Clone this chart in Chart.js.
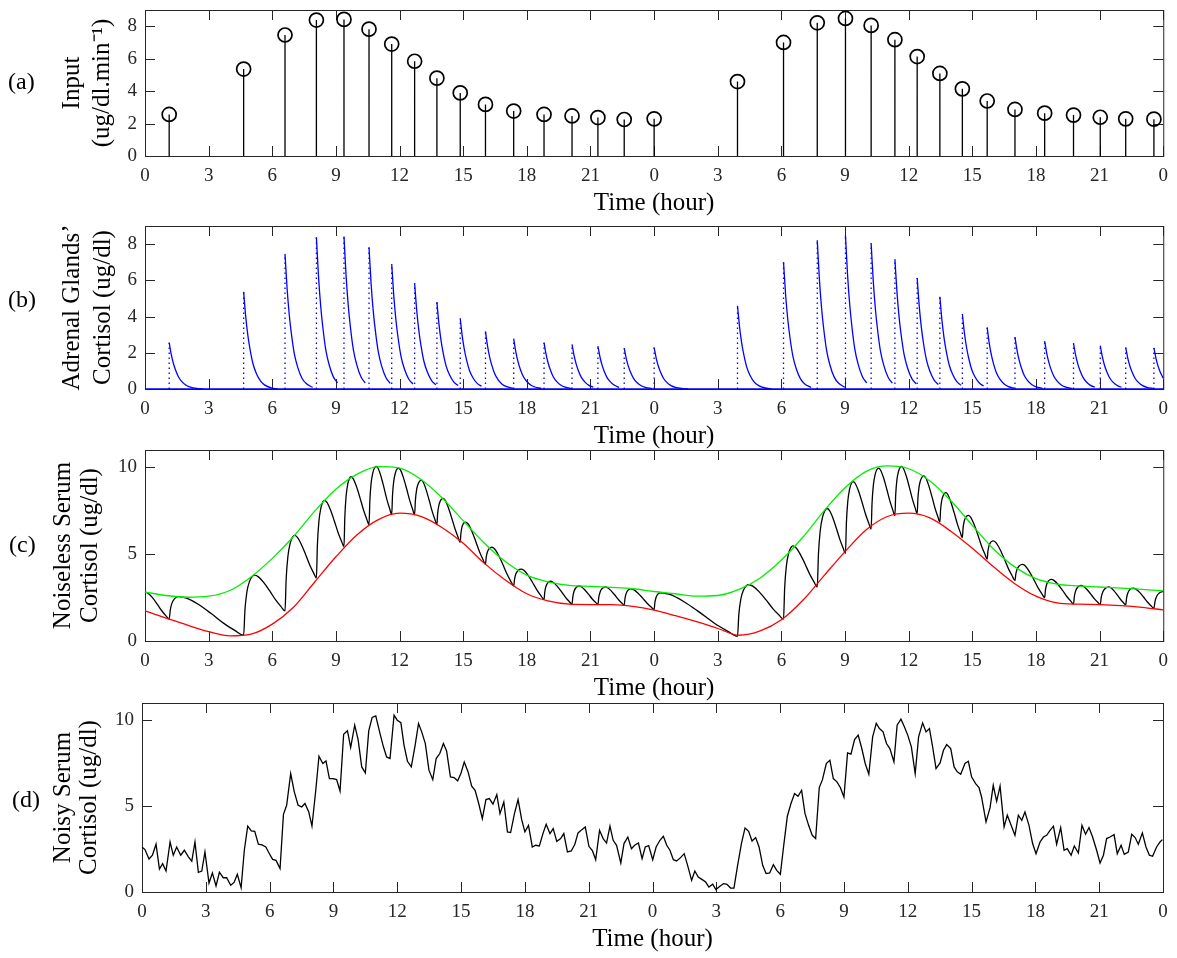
<!DOCTYPE html>
<html>
<head>
<meta charset="utf-8">
<script src="https://cdn.jsdelivr.net/npm/chart.js@4.4.1/dist/chart.umd.min.js"></script>
<style>
  body { margin: 0; background: #fff; }
  #wrap { position: relative; width: 1177px; height: 958px; overflow: hidden; }
  .panel { position: absolute; left: 0; width: 1177px; }
  .tag { position: absolute; font-family: 'Liberation Serif', serif; font-size: 24px; color: #000; }
</style>
</head>
<body>
<div id="wrap">
  <div class="panel" id="pa"><canvas id="ca"></canvas></div>
  <div class="panel" id="pb"><canvas id="cb"></canvas></div>
  <div class="panel" id="pc"><canvas id="cc"></canvas></div>
  <div class="panel" id="pd"><canvas id="cd"></canvas></div>
  <div class="tag" style="left:8px;top:68px">(a)</div>
  <div class="tag" style="left:8px;top:286px">(b)</div>
  <div class="tag" style="left:9px;top:531px">(c)</div>
  <div class="tag" style="left:12px;top:786px">(d)</div>
</div>
<script>
// pulse times (hours from start, two days) and input amplitudes
const pulseHours = [1.14, 4.65, 6.60, 8.08, 9.38, 10.56, 11.63, 12.71, 13.76, 14.86, 16.05, 17.38, 18.81, 20.13, 21.35, 22.59, 24.0,
  27.93, 30.10, 31.69, 33.02, 34.23, 35.35, 36.40, 37.47, 38.53, 39.70, 41.01, 42.41, 43.77, 45.03, 46.23, 47.56];
const inputValues = [2.56, 5.36, 7.46, 8.38, 8.42, 7.82, 6.90, 5.84, 4.80, 3.89, 3.18, 2.77, 2.56, 2.47, 2.37, 2.25, 2.29,
  4.59, 7.00, 8.21, 8.48, 8.05, 7.17, 6.13, 5.09, 4.14, 3.39, 2.87, 2.64, 2.52, 2.39, 2.29, 2.27];

// adrenal decay after each pulse, read from one spike (hours after pulse, share of amplitude)
const decayHours = [0, 0.1, 0.2, 0.3, 0.44, 0.6, 0.8, 1.0, 1.3, 1.6];
const decayShare = [1, 0.74, 0.55, 0.41, 0.26, 0.16, 0.08, 0.04, 0.012, 0];

// serum (noiseless): value at start, troughs at pulses, peaks after pulses
const serumStart = 2.82;
const serumTrough = [1.26, 0.33, 1.73, 3.63, 5.44, 6.70, 7.28, 7.28, 6.70, 5.69, 4.41, 3.17, 2.39, 2.12, 2.10, 2.06, 1.81,
  0.27, 1.26, 3.11, 5.05, 6.45, 7.22, 7.34, 6.85, 5.96, 4.72, 3.48, 2.50, 2.14, 2.10, 2.08, 1.88];
const serumPeakHours = [1.59, 5.16, 7.05, 8.46, 9.71, 10.90, 11.95, 13.02, 14.05, 15.11, 16.35, 17.73, 19.11, 20.46, 21.70, 22.90, 24.30,
  28.45, 30.54, 32.16, 33.38, 34.58, 35.66, 36.71, 37.75, 38.81, 39.98, 41.36, 42.72, 44.12, 45.43, 46.58, 48.0];
const serumPeak = [2.56, 3.79, 6.08, 8.10, 9.46, 10.06, 9.96, 9.26, 8.21, 6.85, 5.40, 4.14, 3.44, 3.17, 3.11, 3.01, 2.78,
  3.24, 5.48, 7.63, 9.18, 9.96, 10.06, 9.51, 8.54, 7.24, 5.77, 4.41, 3.55, 3.20, 3.11, 3.05, 2.85];
// arch shape (position along rise / fall, share of swing)
const riseStep = [0, 0.12, 0.3, 0.55, 0.8, 1];
const riseShare = [0, 0.42, 0.72, 0.9, 0.98, 1];
const fallStep = [0, 0.12, 0.3, 0.5, 0.7, 0.87, 1];
const fallShare = [1, 0.96, 0.8, 0.56, 0.3, 0.12, 0];

// envelopes, hourly 0..48
const envelopeHours = Array.from({length: 49}, (_, i) => i);
const upperEnvelope = [2.82, 2.62, 2.52, 2.58, 2.91, 3.69, 4.76, 6.02, 7.48, 8.74, 9.61, 10.04, 9.96, 9.32, 8.25, 6.93, 5.63, 4.56, 3.79, 3.40, 3.20, 3.15, 3.09, 3.01, 2.85,
  2.72, 2.58, 2.62, 2.97, 3.63, 4.66, 5.96, 7.48, 8.83, 9.77, 10.08, 9.92, 9.22, 8.06, 6.66, 5.30, 4.27, 3.59, 3.28, 3.17, 3.11, 3.05, 2.97, 2.89];
const lowerEnvelope = [1.73, 1.32, 0.91, 0.54, 0.29, 0.39, 0.97, 1.94, 3.40, 4.85, 6.12, 6.99, 7.36, 7.18, 6.54, 5.63, 4.47, 3.50, 2.72, 2.31, 2.12, 2.10, 2.10, 2.00, 1.78,
  1.46, 1.11, 0.72, 0.33, 0.58, 1.22, 2.33, 3.75, 5.15, 6.41, 7.17, 7.36, 7.09, 6.31, 5.34, 4.27, 3.30, 2.58, 2.19, 2.12, 2.10, 2.04, 1.94, 1.79];

// noisy serum samples
const noisyHours = [0, 0.14, 0.33, 0.49, 0.66, 0.82, 0.97, 1.13, 1.32, 1.47, 1.63, 1.82, 1.99, 2.18, 2.34, 2.49, 2.65, 2.81, 2.96, 3.15,
  3.31, 3.48, 3.64, 3.82, 3.98, 4.17, 4.33, 4.48, 4.66, 4.81, 4.97, 5.14, 5.30, 5.47, 5.64, 5.82, 5.99, 6.14, 6.30, 6.49,
  6.65, 6.80, 6.99, 7.16, 7.34, 7.51, 7.66, 7.84, 7.99, 8.17, 8.32, 8.50, 8.65, 8.81, 8.98, 9.15, 9.31, 9.48, 9.66, 9.81,
  10.0, 10.16, 10.33, 10.50, 10.66, 10.82, 10.99, 11.19, 11.35, 11.50, 11.66, 11.85, 12.0, 12.17, 12.32, 12.48, 12.66, 12.84, 13.0, 13.15,
  13.32, 13.49, 13.67, 13.83, 14.0, 14.17, 14.32, 14.50, 14.67, 14.84, 15.0, 15.15, 15.33, 15.50, 15.66, 15.83, 16.0, 16.17, 16.33, 16.50,
  16.68, 16.83, 17.01, 17.18, 17.33, 17.51, 17.68, 17.85, 18.0, 18.17, 18.35, 18.51, 18.68, 18.85, 19.0, 19.18, 19.33, 19.50, 19.68, 19.83,
  20.0, 20.18, 20.35, 20.50, 20.68, 20.84, 21.01, 21.18, 21.33, 21.51, 21.68, 21.84, 22.0, 22.15, 22.31, 22.51, 22.66, 22.84, 23.01, 23.16,
  23.34, 23.51, 23.66, 23.82, 24.01, 24.17, 24.35, 24.51, 24.67, 24.82, 24.98, 25.13, 25.32, 25.49, 25.65, 25.84, 25.99, 26.15, 26.34, 26.50,
  26.65, 26.83, 26.98, 27.17, 27.34, 27.50, 27.67, 27.83, 27.99, 28.18, 28.35, 28.52, 28.68, 28.85, 29.01, 29.18, 29.34, 29.51, 29.68, 29.84,
  30.01, 30.18, 30.34, 30.51, 30.68, 30.84, 31.01, 31.17, 31.34, 31.51, 31.67, 31.84, 31.99, 32.17, 32.34, 32.50, 32.67, 32.83, 33.0, 33.17,
  33.33, 33.50, 33.67, 33.84, 34.0, 34.17, 34.35, 34.52, 34.67, 34.84, 35.0, 35.16, 35.35, 35.50, 35.68, 35.83, 36.0, 36.17, 36.35, 36.51,
  36.70, 36.86, 37.02, 37.17, 37.33, 37.52, 37.68, 37.83, 38.02, 38.18, 38.33, 38.49, 38.69, 38.85, 39.0, 39.19, 39.35, 39.47, 39.68, 39.87,
  40.02, 40.18, 40.34, 40.53, 40.68, 40.86, 41.04, 41.20, 41.36, 41.51, 41.70, 41.87, 42.03, 42.22, 42.38, 42.53, 42.69, 42.85, 43.0, 43.19,
  43.35, 43.50, 43.68, 43.83, 44.02, 44.19, 44.36, 44.52, 44.69, 44.88, 45.04, 45.20, 45.35, 45.51, 45.70, 45.85, 46.03, 46.18, 46.37, 46.53,
  46.69, 46.84, 47.03, 47.20, 47.36, 47.51, 47.70, 47.86, 47.97];
const noisyLevel = [2.62, 2.47, 1.92, 2.14, 2.78, 1.34, 1.65, 1.22, 2.91, 2.14, 2.62, 2.14, 2.43, 2.04, 1.79, 2.91, 1.15, 1.22, 2.33, 0.52,
  1.11, 0.35, 1.15, 0.83, 0.83, 0.39, 0.56, 1.03, 0.25, 2.43, 3.83, 3.55, 3.53, 2.78, 2.74, 2.62, 2.23, 1.90, 1.84, 1.36,
  4.52, 5.05, 6.89, 5.83, 5.05, 4.95, 5.15, 4.66, 3.84, 5.92, 7.90, 7.48, 7.63, 6.60, 6.60, 6.54, 5.88, 9.18, 9.38, 8.41,
  9.71, 8.87, 7.28, 6.93, 9.38, 10.16, 10.25, 9.22, 8.45, 7.86, 7.77, 10.29, 10.0, 9.86, 8.54, 7.61, 7.28, 8.54, 9.81, 9.32,
  8.64, 7.09, 6.54, 7.77, 8.06, 8.64, 8.21, 6.70, 6.66, 6.47, 6.93, 7.57, 6.99, 6.16, 5.92, 5.15, 4.27, 5.38, 5.44, 5.11,
  5.67, 4.56, 5.24, 3.50, 3.46, 4.56, 5.38, 4.21, 3.50, 3.88, 2.62, 2.72, 2.68, 3.40, 3.94, 3.40, 3.69, 2.95, 3.11, 3.40,
  2.33, 2.39, 2.78, 3.44, 3.63, 3.79, 2.66, 2.39, 1.88, 3.59, 3.11, 2.85, 3.83, 3.01, 2.72, 1.69, 2.82, 3.20, 2.52, 2.72,
  2.85, 1.94, 2.62, 2.70, 1.88, 2.62, 3.01, 3.24, 2.72, 2.43, 1.88, 1.81, 2.00, 2.23, 1.55, 0.68, 1.22, 0.87, 0.72, 0.58,
  0.29, 0.45, 0.14, 0.33, 0.49, 0.45, 0.23, 0.23, 1.46, 2.82, 3.73, 3.53, 2.97, 3.17, 2.62, 1.55, 1.07, 1.11, 1.59, 1.26,
  1.03, 2.82, 4.41, 5.15, 5.73, 5.57, 5.92, 4.56, 3.88, 3.30, 3.11, 6.08, 6.54, 7.48, 7.67, 6.60, 6.41, 6.08, 5.53, 8.10,
  8.02, 8.87, 9.13, 8.35, 7.48, 6.85, 9.03, 9.81, 9.51, 9.32, 8.64, 8.35, 7.57, 9.71, 10.06, 9.65, 9.13, 8.45, 6.89, 9.03,
  9.84, 9.32, 9.51, 8.45, 7.18, 7.51, 8.25, 8.58, 8.35, 7.28, 6.99, 6.85, 7.48, 7.61, 6.70, 6.31, 6.08, 5.53, 4.08, 4.91,
  6.21, 5.28, 6.16, 3.79, 4.47, 3.88, 3.30, 4.47, 4.17, 4.66, 3.88, 2.82, 2.23, 2.91, 3.20, 3.30, 3.59, 3.83, 2.78, 3.75,
  2.43, 2.52, 2.14, 2.68, 2.27, 3.88, 3.36, 3.75, 3.20, 2.43, 1.69, 2.14, 3.11, 3.20, 3.34, 2.23, 2.72, 2.19, 2.33, 3.36,
  3.17, 2.78, 3.44, 2.62, 2.14, 2.08, 2.62, 2.91, 3.05];

const FONT = "'Liberation Serif', 'Times New Roman', serif";
const AXIS = '#262626';
Chart.defaults.font.family = FONT;
Chart.defaults.color = '#000';

// build line points
const stemLines = [];
const stemHeads = [];
pulseHours.forEach((t, k) => {
  stemLines.push({x: t, y: 0}, {x: t, y: inputValues[k]}, {x: t, y: null});
  stemHeads.push({x: t, y: inputValues[k]});
});

const glandDecay = [];
const glandDots = [];
pulseHours.forEach((t, k) => {
  const next = k + 1 < pulseHours.length ? pulseHours[k + 1] : 48.001;
  decayHours.forEach((h, i) => {
    if (t + h < next) glandDecay.push({x: t + h, y: inputValues[k] * decayShare[i]});
  });
  glandDecay.push({x: glandDecay[glandDecay.length - 1].x, y: null});
  glandDots.push({x: t, y: 0}, {x: t, y: inputValues[k]}, {x: t, y: null});
});

const serumPts = [];
fallStep.forEach((s, i) => {
  serumPts.push({x: s * pulseHours[0], y: serumTrough[0] + (serumStart - serumTrough[0]) * fallShare[i]});
});
pulseHours.forEach((t, k) => {
  const tp = serumPeakHours[k], p = serumPeak[k], lo = serumTrough[k];
  riseStep.forEach((s, i) => {
    if (i > 0) serumPts.push({x: t + (tp - t) * s, y: lo + (p - lo) * riseShare[i]});
  });
  if (k + 1 < pulseHours.length) {
    const tn = pulseHours[k + 1], ln = serumTrough[k + 1];
    fallStep.forEach((s, i) => {
      if (i > 0) serumPts.push({x: tp + (tn - tp) * s, y: ln + (p - ln) * fallShare[i]});
    });
  }
});

const upperPts = envelopeHours.map((h, i) => ({x: h, y: upperEnvelope[i]}));
const lowerPts = envelopeHours.map((h, i) => ({x: h, y: lowerEnvelope[i]}));
const noisyPts = noisyHours.map((h, i) => ({x: h, y: noisyLevel[i]}));

// box with inward ticks on all four sides, drawn under the data
const boxPlugin = {
  id: 'box',
  beforeDatasetsDraw(chart) {
    const {ctx, chartArea: a, scales: {x, y}} = chart;
    ctx.save();
    ctx.strokeStyle = AXIS;
    ctx.lineWidth = 1;
    ctx.beginPath();
    x.ticks.forEach(t => {
      const px = Math.round(x.getPixelForValue(t.value)) + 0.5;
      ctx.moveTo(px, a.bottom); ctx.lineTo(px, a.bottom - 10);
      ctx.moveTo(px, a.top); ctx.lineTo(px, a.top + 10);
    });
    y.ticks.forEach(t => {
      const py = Math.round(y.getPixelForValue(t.value)) + 0.5;
      ctx.moveTo(a.left, py); ctx.lineTo(a.left + 10, py);
      ctx.moveTo(a.right, py); ctx.lineTo(a.right - 10, py);
    });
    ctx.stroke();
    ctx.strokeRect(a.left + 0.5, a.top + 0.5, a.right - a.left, a.bottom - a.top);
    ctx.restore();
  }
};

function lineSet(data, color, width, extra) {
  return Object.assign({
    data: data, borderColor: color, borderWidth: width, pointRadius: 0, pointHoverRadius: 0,
    fill: false, tension: 0, spanGaps: false, clip: false
  }, extra || {});
}

function makePanel(box, cfg) {
  const holder = document.getElementById(box.holder);
  const xAxisH = 62;
  const headRoom = 24;
  holder.style.top = (box.top - headRoom) + 'px';
  holder.style.height = (box.bottom - box.top + headRoom + xAxisH) + 'px';
  return new Chart(document.getElementById(box.canvas), {
    type: 'line',
    data: {datasets: cfg.datasets},
    options: {
      responsive: true,
      maintainAspectRatio: false,
      animation: false,
      events: [],
      layout: {padding: {top: headRoom, right: 1177 - box.right, left: 0, bottom: 0}},
      plugins: {legend: {display: false}, tooltip: {enabled: false}},
      scales: {
        x: {
          type: 'linear', min: 0, max: 48,
          grid: {display: false, drawTicks: false}, border: {display: false},
          ticks: {stepSize: 3, autoSkip: false, maxRotation: 0, padding: 9, color: AXIS,
            font: {size: 19}, callback: v => v % 24},
          title: {display: true, text: 'Time (hour)', color: '#000',
            font: {size: 25, lineHeight: 1}, padding: {top: 0, bottom: 2}},
          afterFit: s => { s.height = xAxisH; }
        },
        y: {
          type: 'linear', min: 0, max: cfg.yMax,
          grid: {display: false, drawTicks: false}, border: {display: false},
          ticks: {stepSize: cfg.yStep, includeBounds: false, padding: 8, color: AXIS, font: {size: 19}},
          title: {display: true, text: cfg.yTitle, color: '#000',
            font: {size: 25, lineHeight: cfg.titleLine / 25}, padding: {top: cfg.titleFirst - cfg.titleLine / 2, bottom: 0}},
          afterFit: s => { s.width = box.left; }
        }
      }
    },
    plugins: [boxPlugin]
  });
}

makePanel({holder: 'pa', canvas: 'ca', left: 145, right: 1165, top: 10, bottom: 156}, {
  yMax: 9, yStep: 2, yTitle: ['Input', '(ug/dl.min\u207B\u00B9)'], titleFirst: 72, titleLine: 30,
  datasets: [
    lineSet(stemLines, '#000', 1.3),
    lineSet(stemHeads, '#000', 1.6, {showLine: false, pointRadius: 7, pointStyle: 'circle',
      pointBorderColor: '#000', pointBackgroundColor: 'rgba(0,0,0,0)', pointBorderWidth: 1.7})
  ]
});

makePanel({holder: 'pb', canvas: 'cb', left: 145, right: 1165, top: 226, bottom: 389}, {
  yMax: 9, yStep: 2, yTitle: ['Adrenal Glands\u2019', 'Cortisol (ug/dl)'], titleFirst: 72, titleLine: 31,
  datasets: [
    lineSet([{x: 0, y: 0}, {x: 48, y: 0}], '#0000ff', 1.3),
    lineSet(glandDots, '#0000ff', 1.3, {borderDash: [1.5, 3.5]}),
    lineSet(glandDecay, '#0000ff', 1.3, {cubicInterpolationMode: 'monotone'})
  ]
});

makePanel({holder: 'pc', canvas: 'cc', left: 145, right: 1165, top: 450, bottom: 641}, {
  yMax: 11, yStep: 5, yTitle: ['Noiseless Serum', 'Cortisol (ug/dl)'], titleFirst: 63, titleLine: 27,
  datasets: [
    lineSet(upperPts, '#00ee00', 1.3, {cubicInterpolationMode: 'monotone'}),
    lineSet(lowerPts, '#ff0000', 1.3, {cubicInterpolationMode: 'monotone'}),
    lineSet(serumPts, '#000', 1.3, {cubicInterpolationMode: 'monotone'})
  ]
});

makePanel({holder: 'pd', canvas: 'cd', left: 142, right: 1163, top: 703, bottom: 892}, {
  yMax: 11, yStep: 5, yTitle: ['Noisy Serum', 'Cortisol (ug/dl)'], titleFirst: 63, titleLine: 26,
  datasets: [
    lineSet(noisyPts, '#000', 1.3)
  ]
});
</script>
</body>
</html>
